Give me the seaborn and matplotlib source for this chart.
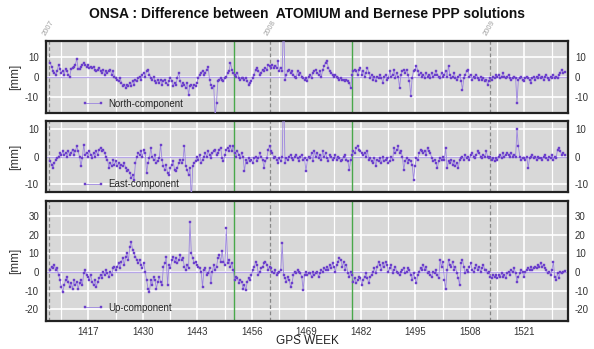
import numpy as np
import matplotlib
matplotlib.use("Agg")
import matplotlib.pyplot as plt
from matplotlib.transforms import blended_transform_factory
import seaborn as sns

# daily-ish solution differences [mm], 3 samples per GPS week, first at week 1407.9
north = [
    7, 5, 3, 2, 1, 3, 6, 4, 2, 3, 1, 4, 3, 1, 0,                              # 1408
    4, 4.5, 5, 6, 9, 4, 4, 5, 6, 7, 6, 5, 6, 4.5, 5,                          # 1413
    4.5, 5, 3.5, 3, 3.5, 4.5, 3, 2, 3.5, 1, 3, 2, 3, 3.5, 1,                  # 1418
    3, 0, -0.5, -1.5, -2, -0.5, -3, -4.5, -4, -5.5, -4, -4.5, -3, -4.5, -2,   # 1423
    -4, -1.5, -2, -0.5, 0, -1.5, 1, 2, 0, 3, 3.5, 1, -0.5, -1.5, 0,           # 1428
    -2, -3, -1.5, -3, -1.5, -4, -2, -1.5, -3, -4, -2, -0.5, -2, -4.5, -3,     # 1433
    -4, -0.5, 2, -2, -4.5, -3, -4, -5.5, -3, -9, -4.5, -4, -5.5, -4, -4.5,    # 1438
    -3, -0.5, 1, 2, 3, 1, 2, 3.5, 5, -1.5, -4, -5.5, -4.5, -20, -13,          # 1443
    -2, -1.5, -0.5, -1.5, -2, -0.5, 0, 2, 3, 7, 3.5, 2, 1, 0, 2,              # 1448
    -0.5, -1.5, -0.5, -0.5, -1.5, -0.5, -2, -4, -3, -2, -0.5, 1, 3.5, 4.5, 3, # 1453
    1, 2, 3.5, 3, 4.5, 3.5, 6, 5.5, 4.5, 6, 4.5, 5.5, 4.5, 8, 3,              # 1458
    4.5, 3, 30, -1.5, 1, 3, 3.5, 2, 3, 1, 0, -0.5, 3, 1, 2,                   # 1463
    0, -0.5, -1.5, -0.5, -2, 0, 1, -0.5, 2, 3, 3.5, 2, 1, 3, 0,               # 1468
    3.5, 5.5, 7, 8, 4.5, 3, 2, 1, 0, 1, 0, -0.5, -1.5, -0.5, -1.5,            # 1473
    -1.5, -2, -1.5, -2, -3, -5.5, 1, 3, 3.5, 3, 1, 3.5, 4.5, 1, 3,            # 1478
    0, 2, 4.5, 2, -0.5, 1, -1.5, 0, -2, 0, -0.5, 1, -0.5, -3, 0,              # 1483
    1, -1.5, -0.5, 3, 0, 1, 3.5, -0.5, 2, 0, -5.5, 1, 3, 3.5, 2,              # 1488
    3.5, 1, -2, -9.5, -0.5, 3, 3.5, 5.5, 3, 1, 2, 0, 1, -0.5, 2,              # 1493
    0, 1, -0.5, 2, 0, 1, 3, 1, 0, -0.5, 2, 0, 1, 3, 0,                        # 1498
    5.5, 1, -0.5, 0, 2, -0.5, -1.5, 0, 1, -2, -6.5, -0.5, 1, 3, 3.5,          # 1503
    0, 1, -1.5, 0, -0.5, 1, -0.5, -1.5, 0, -1.5, -0.5, -2, -1.5, -4, -2,      # 1508
    -0.5, -1.5, 0, -0.5, 1, 0, 1, -0.5, 0, 2, 0, -0.5, 0, 1, -0.5,            # 1513
    -1.5, -0.5, 0, -0.5, -13, -1.5, -0.5, 0, -1.5, -2, -0.5, 0, -0.5, -1.5, -3,  # 1518
    -0.5, 0, -1.5, 0, -0.5, 1, -0.5, 0, -1.5, 0, 1, -0.5, -1.5, 0, -0.5,      # 1523
    1, -0.5, 0, -0.5, 1, 2, 3.5, 2, 2.5,                                      # 1528
]

east = [
    -1.7, -2.9, -4.1, -2.3, -1.1, -0.5, 0, 1.3, 0.7, 2, 0.7, 1.3, 0, 2, 0.7,          # 1408
    1.3, 2.6, 0.7, 2, 3.8, 2, 0, -3.5, -0.5, 4.4, 0.7, 1.3, 0, 2, 0.7,                # 1413
    -0.5, 1.3, 0, 2, 0.7, 2.6, 3.2, 2, 2.6, 1.3, 0, -1.1, -4.1, -2.3, -3.5,           # 1418
    -1.1, -2.9, -1.7, -3.5, -2.3, -4.1, -2.9, -3.5, -2.3, -4.1, -5.4, -4.8, -6, -7.8, -6.6,  # 1423
    -8.4, -2.3, 0, 1.3, 0.7, 2, 0, 2.6, 1.3, -6, -2.3, -0.5, 3.2, 0, -1.1,            # 1428
    0.7, -2.3, -1.7, -0.5, 4.4, -1.1, -3.5, -4.8, -2.9, -6, -6.6, -4.1, -2.9, -1.7, -4.8,  # 1433
    -5.4, -4.1, -2.3, -1.1, -2.3, -1.1, 4, -3.5, -4.8, -6.6, -4.1, -16, -3.5, -2.3, -1.7,  # 1438
    0, -1.1, 0.7, -2.3, -1.1, 0, 1.3, 0, 2, 0.7, -0.5, 1.3, 2, 2.6, 0.7,              # 1443
    1.3, 2.6, 3.2, -0.5, -1.7, 0.7, 2.6, 3.2, 2, 3.8, 2, 4, 1.3, 0, 2,                # 1448
    0.7, -0.5, 1.3, 0, -5.4, -1.1, -2.3, -0.5, -1.7, -1.1, -2.3, -0.5, 0, -1.7, -0.5, # 1453
    1.3, 0, -1.1, -4.1, -1.7, -0.5, 2.6, 3.8, 2, 1.3, -0.5, 0, -1.1, -2.3, -0.5,      # 1458
    -1.7, 0, 25, -2.3, -0.5, -1.1, 0, 0.7, -0.5, -1.1, 0, 0.7, -0.5, -1.7, 0,         # 1463
    0.7, -1.1, -0.5, -5.4, -1.1, 0, -0.5, 1.3, -1.7, 2, 0, 1.3, -0.5, 0.7, -1.1,      # 1468
    2, 0, 1.3, -0.5, -1.7, 0.7, 0, -1.1, -0.5, 0.7, -1.1, 0, -0.5, -1.7, -1.1,        # 1473
    0, 0.7, -1.1, -1.7, -4.8, -1.1, 0.7, 2, 1.3, 3.2, 4, 2.6, 2, 1.3, 0.7,            # 1478
    1.3, 0, 2, -1.1, -0.5, -1.7, -2.3, -0.5, -3.5, -1.1, -1.7, -0.5, -2.3, 0, -1.7,   # 1483
    -1.1, -0.5, -2.3, -1.7, 0, -1.1, 3.2, 1.3, 2.6, 3.8, 1.3, 2, 0, -4.8, -1.7,       # 1488
    -0.5, -2.3, -1.1, -1.7, -2.9, -8.4, -3.5, -0.5, -1.1, 1.3, 2.6, 2, 1.3, 2, 0.7,   # 1493
    3.2, 2, 1.3, -0.5, -1.7, -1.1, -2.3, -4.1, -1.7, -0.5, -1.1, 0, -1.1, 3.2, -4.1,  # 1498
    -1.7, -2.3, -1.1, -2.9, -1.7, -3.5, -2.3, -4.1, -1.1, -0.5, 0, -1.1, 0.7, -0.5, 0,  # 1503
    -1.1, 0.7, 1.3, 0, -0.5, 0.7, 2, 1.3, 0, -0.5, 0.7, 0, 2, 0, -0.5,                # 1508
    0, -1.1, -0.5, -1.7, -0.5, -1.1, 0, 0.7, -0.5, 1.3, 0, 0.7, 1.3, 0.7, 0,          # 1513
    1.3, 0, 0.7, 0, 10, 3.8, 0, -1.1, -0.5, -0.5, -1.1, 0, -4.1, -0.5, 0,             # 1518
    0.7, -0.5, 0, -1.1, 0, -0.5, -0.5, -1.1, 0, 0.7, -0.5, -1.1, 0, -0.5, 0.7,        # 1523
    -1.1, 0, -0.5, 2.6, 3.2, 2, 0.7, 1.3, 0.5,                                        # 1528
]

up = [
    1.1, 2.9, 2, 3.8, 1.1, 2, -1.6, -4.3, -7.9, -10.6, -7, -4.3, -2.5, -5.2, -7.9,    # 1408
    -6.1, -8.8, -4.3, -7, -5.2, -8.8, -6.1, -4.3, -7, -0.7, 1.1, -1.6, -2.5, -4.3, -1.6,  # 1413
    -5.2, -7, -4.3, -7.9, -5.2, -3.4, -1.6, -3.4, 0.2, -1.6, 1.1, -0.7, -2.5, 0.2, -1.6,  # 1418
    2, 2.9, 1.1, 2.9, 4.7, 2, 5.6, 7.3, 3.8, 8.2, 10, 6.5, 13.6, 16.3, 11.8,          # 1423
    10, 8.2, 6.5, 4.7, 6.5, 3.8, 2, 4.7, 0.2, -4.3, -8.8, -10.6, -4.3, -7, -2.5,      # 1428
    -4.3, -8.8, -5.2, -2.5, -5.2, -7, 2.9, 4.7, 8, -7, 3.8, 2, 6.5, 8.2, 5.6,         # 1433
    7.3, 4.7, 6.5, 9.1, 6.5, 7.3, 2.9, 1.1, 3.8, 2, 27, 10, 7.3, 4.7, 5.6,            # 1438
    3.8, 2.9, 2, 0.2, -7.9, 1.1, 2, -1.6, -0.7, 2, -6.1, 0.2, 3.8, 1.1, 2.9,          # 1443
    7.3, 9.1, 5.6, 11, 5.6, 3.8, 23.5, 4.7, 6.5, 2.9, 4.7, 1.1, -4.3, -2.5, -3.4,     # 1448
    -6.1, -4.3, -5.2, -8.8, -7, -9.7, -5.2, -3.4, -4.3, -1.6, 1.1, 2.9, 5.6, 3.8, -1.6,  # 1453
    0.2, 2, 2.9, 4.7, 5.6, 3.8, 1.1, 2.9, 2, 0.2, -0.7, 1.1, -1.6, -0.7, 0.2,         # 1458
    1.1, 15.4, -1.6, -3.4, -5.2, -2.5, -4.3, -7.9, -6.1, -1.6, 0.2, -0.7, 1.1, 0.2, -0.7,  # 1463
    -2.5, -9.5, -1.6, 0.2, -1.6, -0.7, -0.7, -2.5, 0.2, -1.6, -0.7, 0.2, -2.5, -0.7, 1.1,  # 1468
    0.2, 2, 1.1, 2.9, 1.1, 3.8, 2, 4.7, 2.9, 0.2, 3.8, 5.6, 7.3, 6.5, 2.9,            # 1473
    5.6, 1.1, 3.8, -0.7, -2.5, 0.2, -1.6, -5.2, -3.4, -6.1, -4.3, -2.5, -3.4, -7, -4.3,  # 1478
    -2.5, -0.7, -3.4, -6.1, -2.5, -1.6, 0.2, 2, -0.7, 2.9, 5.6, 3.8, 1.1, 4.7, 2.9,   # 1483
    5.6, 3.8, 0.2, 2, 3.8, -0.7, 1.1, 2.9, 0.2, -0.7, -1.6, 0.2, 1.1, 2, -0.7,        # 1488
    0.2, 2, 1.1, -1.6, -4.3, -0.7, -3.4, -6.1, -1.6, 0.2, 2, 1.1, 3.8, 1.1, 2.9,      # 1493
    -0.7, 0.2, -1.6, -2.5, 0.2, -0.7, 1.1, -1.6, -3.4, 6.5, 2.9, 5.6, -4.3, -8.8, 1.1,  # 1498
    6.5, 3.8, 2.9, 5.6, 1.1, 2.9, -0.7, -3.4, -7, 4.7, 6.5, 2.9, -0.7, 1.1, 0.2,      # 1503
    2.9, 4.7, 1.1, 0.2, 2, 3.8, 1.1, 2.9, 0.2, 2, 3.8, 1.1, 1.1, -0.7, 0.2,           # 1508
    -2.5, -3.4, -1.6, -2.5, -1.6, -3.4, -1.6, -2.5, -0.7, -2.5, -1.6, -3.4, -0.7, 0.2, -1.6,  # 1513
    1.1, 0.2, 2, -0.7, -5.2, -2.5, -0.7, 1.1, 0.2, -2.5, 0.2, 1.1, 2, 1.1, 2.9,       # 1518
    1.1, 2, 2.9, 2, 3.8, 2.9, 4.7, 2.9, 3.8, 2, 1.1, -0.7, 0.2, -1.6, 1.1,            # 1523
    5.6, -2.5, -4.3, -0.7, -3.4, 0.2, -0.7, 0.2, 0.5,                                 # 1528
]

series = [("North-component", north), ("East-component", east), ("Up-component", up)]
ylims = [(-18, 18), (-13, 13), (-26, 38)]
yticks = [[-10, 0, 10], [-10, 0, 10], [-20, -10, 0, 10, 20, 30]]
week_ticks = [1417, 1430, 1443, 1456, 1469, 1482, 1495, 1508, 1521]
year_weeks = [1407.6, 1460.4, 1512.8]
year_labels = ["2007", "2008", "2009"]
green_weeks = [1451.7, 1479.9]

sns.set_style("darkgrid", {"axes.facecolor": "#d8d8d8", "grid.color": "white"})
plt.rcParams["font.family"] = ["Liberation Sans", "DejaVu Sans"]
plt.rcParams["axes.unicode_minus"] = False

W, H = 594, 349
fig = plt.figure(figsize=(W / 100, H / 100), dpi=100)
fig.patch.set_facecolor("white")
panels = [(40.7, 112.7), (121, 192.3), (201, 320.7)]

line_c = "#9c85e0"
mark_c = "#6b3fcb"

axes = []
for i, ((top, bot), (name, vals)) in enumerate(zip(panels, series)):
    ax = fig.add_axes([46 / W, 1 - bot / H, (568 - 46) / W, (bot - top) / H])
    axes.append(ax)
    weeks = 1407.9 + np.arange(len(vals)) / 3.0
    ax.axhline(0, color="#b7a6e8", lw=0.9, zorder=1.5)
    for yw in year_weeks:
        ax.axvline(yw, color="#888888", lw=0.9, ls=(0, (3, 2)), zorder=1.6)
    for gw in green_weeks:
        ax.axvline(gw, color="#49a84a", lw=1.0, zorder=1.6)
    sns.lineplot(x=weeks, y=vals, ax=ax, color=line_c, lw=0.6, marker="s",
                 markersize=1.8, markerfacecolor=mark_c, markeredgecolor=mark_c,
                 markeredgewidth=0.3, label=name, estimator=None, sort=False, zorder=3)
    ax.set_xlim(1406.9, 1531.4)
    ax.set_ylim(*ylims[i])
    ax.set_xticks(week_ticks)
    ax.set_xticks([w + 6.5 for w in [1404] + week_ticks], minor=True)
    ax.set_yticks(yticks[i])
    ax.grid(which="major", color="white", lw=1.2)
    ax.grid(which="minor", axis="x", color="white", lw=0.9)
    ax.tick_params(axis="y", labelleft=True, labelright=True, left=False, right=False,
                   labelsize=7, pad=1.5, labelcolor="#333333")
    ax.tick_params(axis="x", which="both", bottom=False, labelbottom=(i == 2),
                   labelsize=7, pad=0.8, labelcolor="#333333")
    for sp in ax.spines.values():
        sp.set_visible(True)
        sp.set_color("#222222")
        sp.set_linewidth(1.6)
    ax.set_ylabel("[mm]", fontsize=8.5, labelpad=3, color="#333333")
    h = bot - top
    leg_y = {0: 4.0, 1: 3.0, 2: 8.0}[i] / h
    ax.legend(loc="lower left", bbox_to_anchor=(0.07, leg_y), frameon=False,
              fontsize=7, handlelength=2.2, handletextpad=0.4, borderaxespad=0,
              borderpad=0, numpoints=2)

fig.text(307 / W, 1 - 341.5 / H, "GPS WEEK", ha="center", va="center",
         fontsize=8.5, color="#222222")

trans = blended_transform_factory(axes[0].transData, axes[0].transAxes)
for yw, lab in zip(year_weeks, year_labels):
    axes[0].text(yw - 0.3, 1 + 4 / 72, lab, transform=trans, rotation=60,
                 rotation_mode="anchor", ha="left", va="bottom", fontsize=5.5,
                 color="#a0a0a0")

fig.text(307 / W, 1 - 14 / H, "ONSA : Difference between  ATOMIUM and Bernese PPP solutions",
         ha="center", va="center", fontsize=10, weight="bold", color="#111111")

fig.savefig("out.png", dpi=100)
